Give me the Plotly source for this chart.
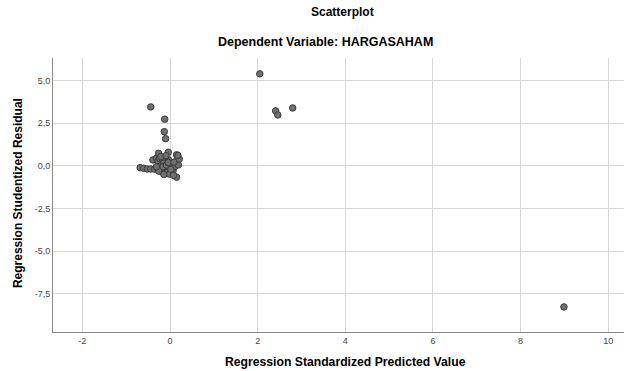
import plotly.graph_objects as go

# Data
pred_outliers = [2.05, 2.41, 2.46, 2.80, 8.99, -0.44, -0.12, -0.13, -0.10]
resid_outliers = [5.40, 3.23, 2.99, 3.40, -8.27, 3.46, 2.74, 2.01, 1.60]

pred_cluster = [-0.68, -0.60, -0.52, -0.44, -0.39, -0.35, -0.31, -0.26, -0.27, -0.24,
                -0.21, -0.20, -0.16, -0.14, -0.12, -0.08, -0.04, -0.03, -0.01, 0.03,
                0.07, 0.11, 0.15, 0.17, 0.19, 0.15, 0.05, -0.18, -0.23, -0.29,
                -0.11, -0.06, -0.01, -0.16, -0.08, -0.04, 0.02, 0.09, -0.26, -0.14,
                -0.21, -0.09, 0.08, -0.31, 0.21, 0.18]
resid_cluster = [-0.10, -0.14, -0.18, -0.18, 0.35, -0.19, 0.45, 0.74, 0.29, 0.45,
                 0.00, -0.23, 0.35, 0.16, -0.33, -0.14, 0.80, 0.35, -0.04, 0.10,
                 -0.29, -0.04, 0.65, 0.45, 0.06, -0.66, -0.49, -0.35, -0.25, -0.12,
                 -0.45, -0.38, -0.48, -0.05, 0.05, 0.20, -0.20, 0.22, -0.30, -0.50,
                 0.55, 0.60, -0.55, -0.05, 0.40, 0.62]

x_vals = pred_outliers + pred_cluster
y_vals = resid_outliers + resid_cluster

x_ticks = [-2, 0, 2, 4, 6, 8, 10]
y_ticks = [5.0, 2.5, 0.0, -2.5, -5.0, -7.5]
y_tick_labels = ["5,0", "2,5", "0,0", "-2,5", "-5,0", "-7,5"]

title1 = "Scatterplot"
title2 = "Dependent Variable: HARGASAHAM"
x_title = "Regression Standardized Predicted Value"
y_title = "Regression Studentized Residual"

FONT = "Liberation Sans, Arial, sans-serif"

fig = go.Figure()
fig.add_trace(go.Scatter(
    x=x_vals, y=y_vals, mode="markers",
    marker=dict(size=6.5, color="#707070", line=dict(color="#3a3a3a", width=1)),
    showlegend=False, hoverinfo="skip",
))

fig.update_layout(
    width=625, height=371,
    margin=dict(l=53, r=1, t=58, b=39),
    paper_bgcolor="white", plot_bgcolor="white",
    font=dict(family=FONT, color="#000"),
    xaxis=dict(range=[-2.67, 10.36], tickvals=x_ticks, ticktext=[str(v) for v in x_ticks],
               showgrid=True, gridcolor="#d6d6d6", gridwidth=1, zeroline=False,
               showline=True, linecolor="#8a8a8a", linewidth=1, ticks="",
               tickfont=dict(size=9, color="#444", family=FONT)),
    yaxis=dict(range=[-9.74, 6.33], tickvals=y_ticks, ticktext=y_tick_labels,
               showgrid=True, gridcolor="#d6d6d6", gridwidth=1, zeroline=False,
               showline=True, linecolor="#8a8a8a", linewidth=1, ticks="",
               tickfont=dict(size=9, color="#444", family=FONT)),
    annotations=[
        dict(text="<b>%s</b>" % title1, x=(342 - 53) / 571, y=1.168, xref="paper", yref="paper",
             xanchor="center", yanchor="middle", showarrow=False,
             font=dict(size=12, family=FONT, color="#000")),
        dict(text="<b>%s</b>" % title2, x=(325 - 53) / 571, y=1.058, xref="paper", yref="paper",
             xanchor="center", yanchor="middle", showarrow=False,
             font=dict(size=12.5, family=FONT, color="#000")),
        dict(text="<b>%s</b>" % x_title, x=(345 - 53) / 571, y=-0.109, xref="paper", yref="paper",
             xanchor="center", yanchor="middle", showarrow=False,
             font=dict(size=12.2, family=FONT, color="#000")),
        dict(text="<b>%s</b>" % y_title, x=-0.0613, y=0.507, xref="paper", yref="paper",
             xanchor="center", yanchor="middle", showarrow=False, textangle=-90,
             font=dict(size=12, family=FONT, color="#000")),
    ],
)

fig.write_html("out.html", config={"displayModeBar": False},
               post_script="document.body.style.margin='0';document.body.style.overflow='hidden';")
